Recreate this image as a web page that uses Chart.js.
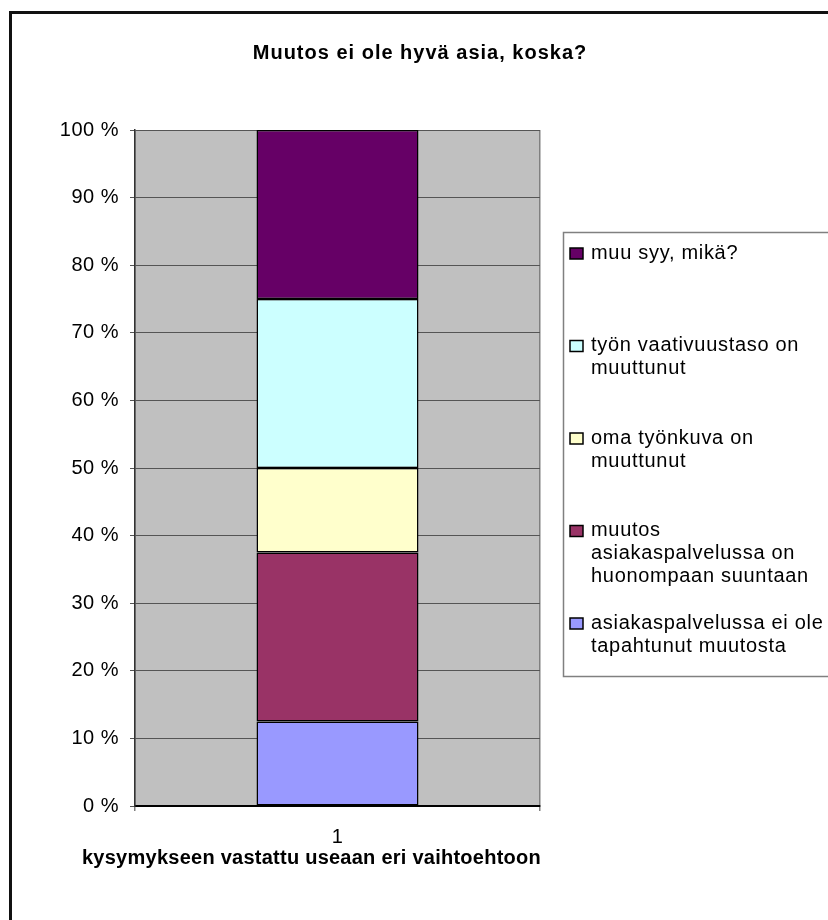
<!DOCTYPE html>
<html>
<head>
<meta charset="utf-8">
<script src="https://cdn.jsdelivr.net/npm/chart.js@4.4.1/dist/chart.umd.min.js"></script>
<style>
  html, body { margin: 0; padding: 0; background: #fff; overflow: hidden; }
  #wrap { position: relative; width: 828px; height: 920px; }
</style>
</head>
<body>
<div id="wrap"><canvas id="chart" width="828" height="920"></canvas></div>
<script>
// --- data ---
const categories = ['1'];
const chartTitle = 'Muutos ei ole hyvä asia, koska?';
const xAxisTitle = 'kysymykseen vastattu useaan eri vaihtoehtoon';

// series from the bottom of the stack upwards (legend lines pre-wrapped)
const seriesLabels = [
    ['asiakaspalvelussa ei ole', 'tapahtunut muutosta'],
    ['muutos', 'asiakaspalvelussa on', 'huonompaan suuntaan'],
    ['oma työnkuva on', 'muuttunut'],
    ['työn vaativuustaso on', 'muuttunut'],
    ['muu syy, mikä?']
];
const seriesValues = [12.5, 25, 12.5, 25, 25];   // % share
const seriesColors = ['#9999FF', '#993366', '#FFFFCC', '#CCFFFF', '#660066'];
const yTicks = [0, 10, 20, 30, 40, 50, 60, 70, 80, 90, 100];

const FONT = '"Liberation Sans", Arial, sans-serif';

// background, outer frame and gray plot area
const framePlugin = {
    id: 'frame',
    beforeDraw(chart) {
        const ctx = chart.ctx;
        const a = chart.chartArea;
        ctx.save();
        ctx.fillStyle = '#fff';
        ctx.fillRect(0, 0, chart.width, chart.height);
        ctx.fillStyle = '#111';
        ctx.fillRect(9, 11, chart.width, 3);
        ctx.fillRect(9, 11, 3, chart.height);
        ctx.fillStyle = '#C0C0C0';
        ctx.fillRect(a.left, a.top, a.right - a.left, a.bottom - a.top);
        ctx.restore();
        ctx.letterSpacing = '0.5px';
    },
    afterDraw(chart) {
        const ctx = chart.ctx;
        ctx.save();
        ctx.fillStyle = '#000';
        ctx.textBaseline = 'middle';

        // title
        ctx.font = 'bold 20px ' + FONT;
        ctx.letterSpacing = '1px';
        ctx.textAlign = 'center';
        ctx.fillText(chartTitle, 420, 53);

        // x axis title
        ctx.letterSpacing = '0.25px';
        ctx.textAlign = 'left';
        ctx.fillText(xAxisTitle, 82, 858);

        // legend box
        ctx.strokeStyle = '#808080';
        ctx.lineWidth = 1.5;
        ctx.strokeRect(563.5, 232.5, 300, 444);

        ctx.font = '20px ' + FONT;
        ctx.letterSpacing = '0.7px';
        const order = chart.data.datasets.map((d, i) => i).reverse();
        order.forEach((di, k) => {
            const ds = chart.data.datasets[di];
            const y0 = 253 + k * 92.5;
            ctx.fillStyle = ds.backgroundColor;
            ctx.fillRect(570, y0 - 5, 13, 11);
            ctx.strokeStyle = '#000';
            ctx.lineWidth = 1.5;
            ctx.strokeRect(570, y0 - 5, 13, 11);
            ctx.fillStyle = '#000';
            seriesLabels[di].forEach((line, j) => {
                ctx.fillText(line, 591, y0 + j * 23);
            });
        });
        ctx.restore();
    }
};

const datasets = seriesValues.map((v, i) => ({
    label: seriesLabels[i].join(' '),
    data: [v],
    backgroundColor: seriesColors[i],
    borderColor: '#000',
    borderWidth: 1.5,
    borderSkipped: false,
    categoryPercentage: 1,
    barPercentage: 0.4
}));

new Chart(document.getElementById('chart'), {
    type: 'bar',
    data: { labels: categories, datasets: datasets },
    plugins: [framePlugin],
    options: {
        responsive: false,
        animation: false,
        devicePixelRatio: 1,
        layout: { padding: { left: 10, top: 130, right: 288, bottom: 0 } },
        plugins: { legend: { display: false }, title: { display: false }, tooltip: { enabled: false } },
        scales: {
            x: {
                stacked: true,
                grid: { color: '#808080', lineWidth: 1.5, tickLength: 5 },
                border: { color: '#000', width: 2 },
                ticks: { color: '#000', font: { family: FONT, size: 20 }, padding: 14 },
                afterFit(scale) { scale.height = 114; }
            },
            y: {
                stacked: true,
                min: 0,
                max: 100,
                afterBuildTicks(scale) { scale.ticks = yTicks.map(v => ({ value: v })); },
                grid: { color: '#555', lineWidth: 1, tickLength: 5 },
                border: { color: '#333', width: 1.5 },
                ticks: {
                    color: '#000',
                    font: { family: FONT, size: 20 },
                    padding: 11,
                    callback: v => v + ' %'
                },
                afterFit(scale) { scale.width = 125; }
            }
        }
    }
});
</script>
</body>
</html>
